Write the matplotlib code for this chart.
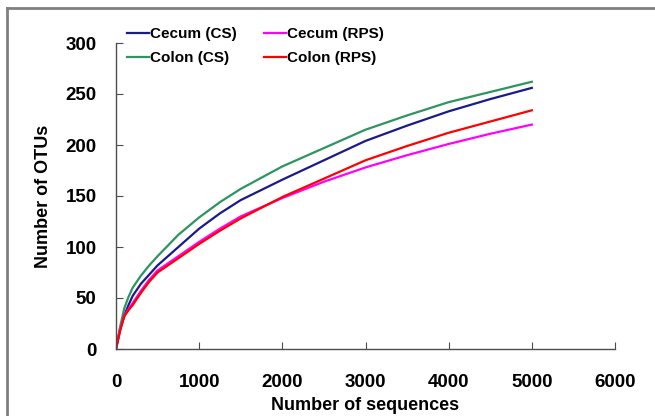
import matplotlib
matplotlib.use("Agg")
import matplotlib.pyplot as plt
from matplotlib.lines import Line2D

plt.rcParams['font.family'] = ['Liberation Sans', 'DejaVu Sans']
plt.rcParams['font.weight'] = 'bold'

seqs = [0, 50, 100, 150, 200, 300, 400, 500, 750, 1000, 1250, 1500, 2000, 2500, 3000, 3500, 4000, 4500, 5000]
cecum_cs = [0, 20, 33, 43, 52, 64, 73, 82, 100, 118, 133, 146, 166, 185, 204, 219, 233, 245, 256]
cecum_rps = [0, 19, 33, 39, 45, 57, 68, 77, 91, 105, 118, 130, 148, 164, 178, 190, 201, 211, 220]
colon_cs = [0, 22, 40, 51, 60, 72, 82, 91, 112, 129, 144, 157, 179, 197, 215, 229, 242, 252, 262]
colon_rps = [0, 18, 32, 38, 43, 55, 66, 75, 89, 103, 116, 128, 149, 167, 185, 199, 212, 223, 234]

series = [
    ("Cecum (CS)", cecum_cs, "#1a1a8c"),
    ("Colon (CS)", colon_cs, "#2e9460"),
    ("Cecum (RPS)", cecum_rps, "#ff00ff"),
    ("Colon (RPS)", colon_rps, "#ff0000"),
]

W, H = 655, 416
fig = plt.figure(figsize=(W / 100, H / 100), dpi=100)
ax = fig.add_axes([116 / W, 1 - 349 / H, (615 - 116) / W, (349 - 43) / H])

for label, vals, col in series:
    ax.plot(seqs, vals, color=col, lw=1.6, label=label)

ax.set_xlim(0, 6000)
ax.set_ylim(0, 300)
ax.set_xticks(range(0, 6001, 1000))
ax.set_yticks(range(0, 301, 50))
for s in ['top', 'right']:
    ax.spines[s].set_visible(False)
for s in ['left', 'bottom']:
    ax.spines[s].set_color('#4d4d4d')
    ax.spines[s].set_linewidth(1.0)
ax.tick_params(axis='both', direction='in', length=5, color='#4d4d4d', labelsize=13.5)
ax.tick_params(axis='y', pad=14)
ax.tick_params(axis='x', pad=18)

fig.text(365 / W, 1 - 405 / H, "Number of sequences", ha='center', va='center',
         fontsize=13, fontweight='bold')
fig.text(44 / W, 1 - 196 / H, "Number of OTUs", ha='center', va='center',
         rotation=90, fontsize=13, fontweight='bold')

leg = ax.legend(ncol=2, loc='upper left', bbox_to_anchor=(121 / W, 1 - 21 / H),
                bbox_transform=fig.transFigure, frameon=False, fontsize=11,
                handlelength=1.4, handletextpad=0.1, columnspacing=1.8,
                labelspacing=0.65, borderaxespad=0)

fig.add_artist(Line2D([7 / W, 1.0], [1 - 8 / H, 1 - 8 / H], color='#808080', lw=2,
                      transform=fig.transFigure))
fig.add_artist(Line2D([7 / W, 7 / W], [1 - 8 / H, 0.0], color='#808080', lw=2,
                      transform=fig.transFigure))

fig.savefig("out.png", dpi=100)
